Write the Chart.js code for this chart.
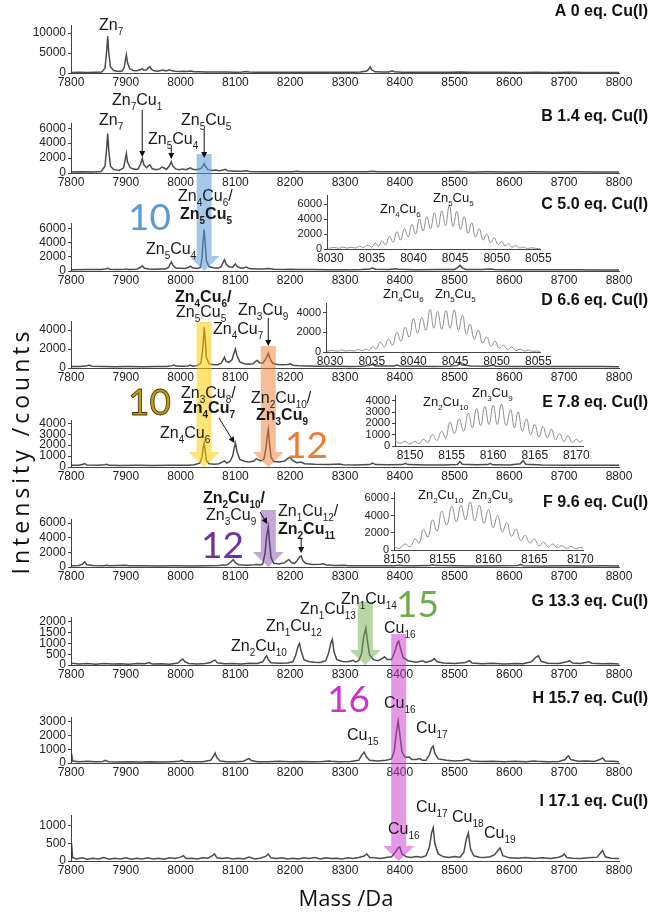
<!DOCTYPE html>
<html>
<head>
<meta charset="utf-8">
<title>Cu(I) titration mass spectra</title>
<script src="https://cdn.jsdelivr.net/npm/chart.js@4.4.1/dist/chart.umd.min.js"></script>
<style>
  html, body { margin: 0; padding: 0; background: #fff; }
  #fig { position: relative; width: 652px; height: 914px; overflow: hidden; }
  #fig canvas { position: absolute; }
</style>
</head>
<body>
<div id="fig"></div>
<script>
// ---- data -------------------------------------------------------------

const massTicks = [7800, 7900, 8000, 8100, 8200, 8300, 8400, 8500, 8600, 8700, 8800];
const panelTitles = ["A 0 eq. Cu(I)", "B 1.4 eq. Cu(I)", "C 5.0 eq. Cu(I)", "D 6.6 eq. Cu(I)",
  "E 7.8 eq. Cu(I)", "F 9.6 eq. Cu(I)", "G 13.3 eq. Cu(I)", "H 15.7 eq. Cu(I)", "I 17.1 eq. Cu(I)"];

const ticksA = [0, 5000, 10000];
const ticksB = [0, 2000, 4000, 6000];
const ticksC = [0, 2000, 4000, 6000];
const ticksD = [0, 2000, 4000];
const ticksE = [0, 1000, 2000, 3000, 4000];
const ticksF = [0, 2000, 4000, 6000];
const ticksG = [0, 500, 1000, 1500, 2000];
const ticksH = [0, 1000, 2000, 3000];
const ticksI = [0, 500, 1000];

// spectra: [mass (Da), intensity (counts)]
const specA = [
  [7800,150],[7815,180],[7830,140],[7845,170],[7856,220],
  [7862,1200],[7865,5200],[7867,9200],[7869,5000],[7872,1500],[7878,600],
  [7886,400],[7893,500],[7897,1300],[7899,3000],[7901,4500],[7903,2600],[7907,1100],[7913,650],
  [7920,550],[7926,800],[7930,1100],[7933,700],[7938,800],[7941,1300],[7944,1600],[7947,900],[7952,550],
  [7958,450],[7964,650],[7968,750],[7972,500],[7976,600],[7979,800],[7983,650],[7990,420],
  [7998,350],[8005,420],[8012,380],[8018,480],[8025,330],[8035,300],[8045,280],[8058,260],[8070,240],
  [8085,220],[8100,210],[8112,230],[8120,380],[8125,240],[8140,200],[8160,190],[8180,210],[8200,180],
  [8220,200],[8240,170],[8260,190],[8280,170],[8300,180],[8318,200],[8328,250],[8340,500],[8344,1100],[8346,1500],[8349,800],[8355,300],
  [8370,220],[8380,260],[8386,550],[8390,300],[8405,200],[8430,180],[8460,170],[8490,190],[8510,220],[8530,170],
  [8560,160],[8590,170],[8620,150],[8650,160],[8680,150],[8710,160],[8740,140],[8770,150],[8800,140]
];
const specB = [
  [7800,150],[7820,170],[7840,150],[7855,200],
  [7862,900],[7865,3200],[7867,5300],[7869,3000],[7872,900],[7878,450],
  [7888,350],[7896,700],[7899,1800],[7901,2600],[7903,1500],[7908,700],[7915,500],
  [7922,500],[7927,1200],[7930,1950],[7933,1100],[7938,700],[7942,1000],[7944,1100],[7948,600],[7955,450],
  [7962,550],[7966,800],[7969,700],[7974,500],[7979,900],[7983,1500],[7986,900],[7991,550],
  [7998,450],[8003,550],[8010,450],[8015,600],[8018,700],[8022,500],[8028,450],[8032,500],
  [8038,650],[8041,1000],[8043,1250],[8046,800],[8050,450],[8058,350],[8064,400],[8070,300],
  [8078,400],[8082,500],[8086,300],[8100,250],[8112,220],[8120,300],[8125,200],[8150,180],
  [8180,170],[8205,180],[8212,230],[8220,170],[8250,180],[8280,160],[8310,170],[8340,180],[8350,250],[8360,170],
  [8400,160],[8440,170],[8480,160],[8510,200],[8530,150],[8560,160],[8600,150],[8640,160],[8680,150],[8720,160],[8760,150],[8800,140]
];
const specC = [
  [7800,180],[7830,200],[7855,220],[7863,300],[7867,400],[7871,250],[7885,200],[7898,250],[7901,300],[7905,220],
  [7920,250],[7926,500],[7930,750],[7934,400],[7942,300],[7950,250],[7965,300],[7972,300],
  [7978,500],[7981,1000],[7983,1300],[7986,800],[7992,400],[8000,400],[8008,350],[8014,500],[8018,700],[8022,450],[8030,350],
  [8036,500],[8039,1800],[8041,4200],[8043,5900],[8045,3800],[8047,1500],[8052,600],[8060,450],[8068,400],
  [8074,600],[8078,1300],[8080,1600],[8083,1000],[8088,600],[8095,500],[8098,850],[8100,1000],[8103,650],[8110,400],
  [8116,450],[8120,550],[8125,350],[8135,300],[8150,280],[8160,350],[8170,250],[8190,220],[8200,260],[8215,200],
  [8240,200],[8270,180],[8300,190],[8330,200],[8345,300],[8350,420],[8356,250],[8380,210],[8393,330],[8398,250],
  [8430,190],[8470,200],[8500,230],[8506,500],[8510,800],[8514,450],[8520,220],[8550,200],[8565,300],[8572,200],
  [8600,180],[8640,190],[8680,170],[8720,180],[8760,160],[8800,150]
];
const specD = [
  [7800,150],[7815,160],[7828,200],[7833,300],[7838,180],[7860,150],[7880,140],[7905,150],[7930,140],[7955,150],
  [7975,160],[7985,250],[7988,320],[7992,200],[8005,180],[8014,220],[8018,300],[8022,200],[8030,250],
  [8037,500],[8040,1800],[8042,3300],[8043,4300],[8045,3000],[8047,1100],[8052,450],[8060,350],[8068,350],
  [8074,500],[8078,900],[8080,1150],[8083,700],[8088,600],[8094,900],[8097,1500],[8100,2000],[8103,1300],[8108,650],
  [8116,450],[8125,400],[8132,450],[8137,700],[8140,800],[8144,550],[8150,500],[8155,900],[8158,1300],[8160,1550],[8163,1000],[8168,500],
  [8176,380],[8185,350],[8195,380],[8200,450],[8205,300],[8215,250],[8230,220],[8250,190],[8280,180],[8310,170],[8330,180],
  [8345,250],[8350,380],[8355,220],[8375,200],[8390,220],[8395,320],[8400,220],[8430,180],[8460,170],[8490,180],
  [8505,250],[8510,600],[8514,300],[8530,200],[8560,180],[8570,280],[8576,180],[8610,160],[8650,170],[8690,150],[8730,160],[8770,150],[8800,140]
];
const specE = [
  [7800,150],[7815,170],[7822,250],[7825,320],[7829,180],[7850,150],[7862,200],[7865,250],[7869,150],[7890,140],[7920,150],
  [7950,140],[7980,150],[8000,160],[8015,170],[8025,200],[8035,350],[8039,900],[8041,1700],[8043,2200],[8045,1500],[8047,600],[8052,300],
  [8062,250],[8070,300],[8076,450],[8080,550],[8084,350],[8090,500],[8095,1000],[8098,1800],[8100,2200],[8103,1400],[8108,700],
  [8118,500],[8125,450],[8134,550],[8138,750],[8141,700],[8146,550],[8152,700],[8156,1800],[8158,2800],[8160,3450],[8162,2300],[8165,900],[8170,500],
  [8180,450],[8190,550],[8196,800],[8200,900],[8204,600],[8212,400],[8220,450],[8226,300],[8245,250],[8270,220],[8290,280],[8296,200],[8320,190],
  [8345,220],[8350,350],[8356,220],[8380,200],[8405,220],[8410,330],[8415,220],[8450,190],[8480,180],[8505,230],[8510,500],[8514,260],
  [8540,200],[8560,220],[8565,320],[8570,200],[8600,190],[8620,300],[8625,600],[8630,260],[8660,180],[8700,170],[8740,160],[8770,160],[8800,150]
];
const specF = [
  [7800,180],[7815,200],[7821,400],[7825,700],[7829,300],[7840,200],[7860,180],[7865,250],[7870,180],[7900,230],[7905,170],
  [7930,160],[7960,150],[7990,160],[8020,150],[8045,170],[8070,200],[8085,300],[8092,700],[8096,1000],[8100,600],[8106,300],
  [8120,250],[8135,300],[8140,350],[8146,280],[8150,450],[8154,1800],[8157,4200],[8160,5500],[8162,3600],[8165,1300],[8170,500],
  [8180,400],[8190,600],[8195,900],[8198,1000],[8202,600],[8208,500],[8213,900],[8217,1400],[8220,1500],[8223,900],[8228,500],
  [8240,350],[8255,380],[8260,450],[8265,300],[8280,220],[8300,250],[8306,180],[8330,170],[8360,160],[8390,170],[8400,230],[8405,170],
  [8430,160],[8455,190],[8460,300],[8465,190],[8500,160],[8540,150],[8580,160],[8615,200],[8620,320],[8626,180],[8660,150],[8700,160],[8740,150],[8770,160],[8800,150]
];
const specG = [
  [7800,80],[7815,50],[7830,70],[7845,40],[7860,70],[7875,50],[7890,60],[7905,40],[7920,70],[7935,60],[7942,110],[7948,50],[7965,60],[7980,40],
  [7995,90],[8000,200],[8004,280],[8008,150],[8015,70],[8030,50],[8045,70],[8055,120],[8060,200],[8063,230],[8067,100],[8080,60],
  [8095,70],[8110,50],[8125,80],[8140,70],[8150,150],[8154,330],[8157,430],[8160,250],[8165,100],[8180,80],[8195,90],[8205,150],
  [8210,450],[8214,850],[8217,1000],[8220,650],[8225,250],[8235,150],[8245,130],[8255,120],[8265,200],[8270,550],[8274,1000],[8277,1190],[8280,600],[8285,250],
  [8295,160],[8305,150],[8312,200],[8315,220],[8319,140],[8325,200],[8330,500],[8334,1300],[8338,1720],[8341,1100],[8345,450],[8352,250],
  [8360,200],[8368,300],[8372,380],[8377,250],[8385,250],[8392,700],[8396,1050],[8398,1110],[8401,800],[8406,350],[8415,200],
  [8430,130],[8442,200],[8447,120],[8458,200],[8463,300],[8468,150],[8480,90],[8500,70],[8520,120],[8527,200],[8532,90],[8550,60],
  [8570,80],[8590,50],[8610,70],[8625,60],[8640,150],[8648,350],[8653,430],[8658,170],[8670,80],[8690,70],[8705,150],[8710,200],[8715,90],
  [8730,70],[8745,150],[8750,80],[8770,60],[8785,70],[8800,50]
];
const specH = [
  [7800,200],[7801,680],[7803,150],[7815,100],[7830,120],[7845,90],[7858,110],[7863,200],[7868,100],[7885,80],[7905,100],[7925,70],
  [7945,90],[7965,70],[7985,100],[7998,130],[8002,200],[8006,110],[8020,90],[8040,100],[8055,200],[8060,500],[8063,730],[8066,400],[8072,150],
  [8085,100],[8100,90],[8115,130],[8121,260],[8125,320],[8129,180],[8140,100],[8160,90],[8180,120],[8200,90],[8220,110],[8240,90],
  [8260,110],[8270,150],[8275,120],[8290,100],[8310,110],[8325,200],[8331,600],[8335,800],[8339,450],[8345,200],[8360,150],[8375,200],[8385,300],
  [8390,900],[8394,2300],[8397,3070],[8400,2100],[8404,800],[8410,400],[8417,440],[8422,250],[8430,250],[8437,320],[8441,200],[8448,200],
  [8454,600],[8458,1100],[8461,1240],[8464,700],[8470,300],[8485,200],[8500,150],[8515,180],[8521,260],[8525,270],[8530,150],[8550,110],
  [8570,130],[8590,100],[8610,120],[8630,100],[8645,150],[8650,130],[8670,100],[8690,110],[8702,250],[8706,480],[8708,510],[8712,250],[8725,130],
  [8740,140],[8755,110],[8765,250],[8770,370],[8775,150],[8790,120],[8800,100]
];
const specI = [
  [7800,80],[7801,500],[7803,100],[7810,60],[7820,90],[7830,50],[7840,80],[7850,60],[7860,100],[7870,50],[7880,80],[7890,60],[7900,90],
  [7910,50],[7920,80],[7930,60],[7940,90],[7950,60],[7960,80],[7970,50],[7980,90],[7990,70],[8000,110],[8005,150],[8010,70],[8020,80],
  [8030,60],[8040,90],[8050,80],[8058,150],[8062,200],[8066,90],[8075,70],[8085,90],[8095,60],[8105,80],[8115,60],[8125,110],[8135,60],
  [8145,80],[8155,130],[8160,200],[8165,90],[8175,70],[8185,90],[8195,60],[8205,80],[8215,60],[8225,90],[8235,70],[8245,100],[8255,60],
  [8265,90],[8275,70],[8285,80],[8295,60],[8305,90],[8315,70],[8325,100],[8335,140],[8340,200],[8345,100],[8355,90],[8365,70],[8375,100],
  [8385,120],[8392,250],[8397,380],[8400,400],[8404,200],[8412,120],[8420,100],[8430,130],[8440,110],[8448,150],[8454,400],[8458,800],[8461,950],
  [8464,500],[8470,200],[8480,120],[8490,100],[8500,130],[8510,110],[8517,250],[8521,600],[8525,800],[8529,350],[8535,150],[8545,110],
  [8555,100],[8565,120],[8573,180],[8579,300],[8583,370],[8588,150],[8600,90],[8615,80],[8630,100],[8645,70],[8660,90],[8675,70],
  [8690,110],[8697,150],[8700,200],[8705,100],[8715,80],[8730,70],[8745,90],[8760,110],[8766,220],[8770,300],[8775,120],[8785,80],[8800,70]
];

// zoomed isotope envelopes
const insetTicksLow = [8030, 8035, 8040, 8045, 8050, 8055];
const insetTicksHigh = [8150, 8155, 8160, 8165, 8170];
const insetYTicksC = [0, 2000, 4000, 6000];
const insetYTicksD = [0, 2000, 4000];
const insetYTicksE = [0, 1000, 2000, 3000, 4000];
const insetYTicksF = [0, 2000, 4000, 6000];

const insetC = [
  [8029.8,100],[8030.5,200],[8031,100],[8031.5,250],[8032,120],[8032.5,220],[8033,150],[8033.5,380],[8034,200],[8034.5,500],
  [8035,250],[8035.4,800],[8035.8,350],[8036.2,1100],[8036.65,550],[8037.1,1700],[8037.55,900],[8038.0,2300],[8038.45,1200],
  [8038.9,2700],[8039.35,1600],[8039.8,3300],[8040.25,2000],[8040.7,4000],[8041.15,2400],[8041.6,4300],[8042.05,2700],
  [8042.5,4800],[8042.95,2900],[8043.4,5100],[8043.85,3100],[8044.3,5850],[8044.75,3000],[8045.2,5000],[8045.65,2600],
  [8046.1,4300],[8046.55,2100],[8047.0,3500],[8047.45,1600],[8047.9,2700],[8048.35,1200],[8048.8,2000],[8049.25,850],
  [8049.7,1500],[8050.15,600],[8050.6,1000],[8051,400],[8051.4,700],[8051.85,250],[8052.3,450],[8052.75,150],[8053.2,250],
  [8053.7,80],[8054.2,150],[8054.8,60],[8055.2,50]
];
const insetD = [
  [8029.6,100],[8030.4,150],[8030.9,80],[8031.4,200],[8031.9,100],[8032.4,150],[8032.9,100],[8033.4,250],[8033.85,130],
  [8034.3,300],[8034.7,180],[8035.1,550],[8035.55,300],[8036.0,1000],[8036.5,500],[8037.0,1300],[8037.5,700],[8038.0,2000],
  [8038.5,1100],[8039.0,2500],[8039.5,1500],[8040.0,3400],[8040.5,1900],[8041.0,3500],[8041.5,2200],[8042.0,4300],
  [8042.45,2400],[8042.9,4100],[8043.4,2300],[8043.9,4200],[8044.4,2400],[8044.9,4250],[8045.4,2200],[8045.9,3700],
  [8046.35,1800],[8046.8,2800],[8047.3,1300],[8047.8,2200],[8048.3,900],[8048.8,1500],[8049.3,600],[8049.8,1100],
  [8050.3,400],[8050.8,700],[8051.3,250],[8051.8,500],[8052.3,150],[8052.8,300],[8053.3,100],[8053.8,200],[8054.3,60],
  [8054.8,100],[8055.2,50]
];
const insetE = [
  [8148.2,500],[8148.8,250],[8149.4,400],[8150.0,180],[8150.6,400],[8151.1,200],[8151.6,600],[8152.15,300],[8152.7,1000],
  [8153.25,500],[8153.8,1300],[8154.3,700],[8154.8,2100],[8155.35,1100],[8155.9,2400],[8156.45,1300],[8157.0,2900],
  [8157.5,1600],[8158.0,3300],[8158.5,1800],[8159.0,3500],[8159.5,1900],[8160.0,3600],[8160.5,1900],[8161.0,3700],
  [8161.55,1800],[8162.1,3200],[8162.55,1600],[8163.0,3000],[8163.5,1300],[8164.0,2400],[8164.5,1000],[8165.0,1900],
  [8165.5,800],[8166.0,1700],[8166.5,700],[8167.0,1500],[8167.5,550],[8168.0,1100],[8168.5,400],[8169.0,900],[8169.5,300],
  [8170.0,600],[8170.4,350],[8170.8,500]
];
const insetF = [
  [8149.7,400],[8150.3,200],[8150.9,700],[8151.45,400],[8152.0,1300],[8152.45,800],[8152.9,2400],[8153.4,1500],
  [8153.9,3500],[8154.4,2200],[8154.9,4500],[8155.45,2900],[8156.0,5100],[8156.5,3300],[8157.0,5200],[8157.5,3500],
  [8158.0,5600],[8158.5,3400],[8159.0,5200],[8159.5,3100],[8160.0,4700],[8160.5,2600],[8161.0,4000],[8161.5,2100],
  [8162.0,3200],[8162.5,1600],[8163.0,2400],[8163.5,1100],[8164.0,1700],[8164.5,800],[8165.0,1300],[8165.5,500],
  [8166.0,900],[8166.5,350],[8167.0,700],[8167.5,250],[8168.0,500],[8168.5,200],[8169.0,400],[8169.5,150],[8170.0,300],[8170.3,200]
];

// ---- layout -----------------------------------------------------------

const FONT = '"Liberation Sans", Arial, sans-serif';
Chart.defaults.font.family = FONT;
Chart.defaults.color = '#222';

const X_LEFT = 71, X_RIGHT = 619, PAD_TOP = 12, X_AXIS_H = 18;
const fig = document.getElementById('fig');

const panels = [
  { spec: specA, yTicks: ticksA, yMax: 12000, top: 25,  bottom: 73 },
  { spec: specB, yTicks: ticksB, yMax: 6700,  top: 123, bottom: 173 },
  { spec: specC, yTicks: ticksC, yMax: 6850,  top: 223, bottom: 271 },
  { spec: specD, yTicks: ticksD, yMax: 4970,  top: 321, bottom: 368 },
  { spec: specE, yTicks: ticksE, yMax: 4300,  top: 420, bottom: 467 },
  { spec: specF, yTicks: ticksF, yMax: 6550,  top: 519, bottom: 567 },
  { spec: specG, yTicks: ticksG, yMax: 2230,  top: 617, bottom: 665 },
  { spec: specH, yTicks: ticksH, yMax: 3365,  top: 717, bottom: 763 },
  { spec: specI, yTicks: ticksI, yMax: 1314,  top: 815, bottom: 861 }
];

const insets = [
  { data: insetC, xTicks: insetTicksLow,  yTicks: insetYTicksC, xMin: 8029.6, xMax: 8055.2, yMax: 7200, left: 327, right: 540, top: 195, bottom: 249 },
  { data: insetD, xTicks: insetTicksLow,  yTicks: insetYTicksD, xMin: 8029.5, xMax: 8055.2, yMax: 4960, left: 326, right: 540, top: 303, bottom: 352 },
  { data: insetE, xTicks: insetTicksHigh, yTicks: insetYTicksE, xMin: 8148.2, xMax: 8170.8, yMax: 4500, left: 395, right: 583, top: 395, bottom: 446 },
  { data: insetF, xTicks: insetTicksHigh, yTicks: insetYTicksF, xMin: 8149.7, xMax: 8170.3, yMax: 6750, left: 394, right: 583, top: 492, bottom: 550 }
];

function makeChart(o) {
  const c = document.createElement('canvas');
  const yW = o.yAxisWidth;
  const canvasLeft = o.left - yW;
  c.width = (o.right - canvasLeft) + o.padRight;
  c.height = (o.bottom - o.top) + PAD_TOP + X_AXIS_H;
  c.style.left = canvasLeft + 'px';
  c.style.top = (o.top - PAD_TOP) + 'px';
  fig.appendChild(c);
  const chart = new Chart(c, {
    type: 'line',
    data: {
      datasets: [{
        data: o.data.map(p => ({ x: p[0], y: p[1] })),
        borderColor: o.color,
        borderWidth: o.width,
        pointRadius: 0,
        tension: o.tension,
        fill: false
      }]
    },
    options: {
      responsive: false,
      animation: false,
      devicePixelRatio: 1,
      events: [],
      layout: { padding: { left: 0, right: o.padRight, top: PAD_TOP, bottom: 0 } },
      plugins: { legend: { display: false }, tooltip: { enabled: false } },
      scales: {
        x: {
          type: 'linear', min: o.xMin, max: o.xMax,
          afterBuildTicks: s => { s.ticks = o.xTicks.map(v => ({ value: v })); },
          afterFit: s => { s.height = X_AXIS_H; },
          grid: { drawOnChartArea: false, drawTicks: false },
          border: { color: '#444', width: 1 },
          ticks: { font: { size: 12 }, color: '#222', padding: 2, maxRotation: 0, autoSkip: false, callback: v => String(v) }
        },
        y: {
          min: 0, max: o.yMax,
          afterBuildTicks: s => { s.ticks = o.yTicks.map(v => ({ value: v })); },
          afterFit: s => { s.width = yW; },
          grid: { drawOnChartArea: false, drawTicks: true, tickLength: 3, color: '#444' },
          border: { color: '#444', width: 1 },
          ticks: { font: { size: o.yFont }, color: '#222', padding: 2, autoSkip: false, callback: v => String(v) }
        }
      }
    }
  });
  return { chart, el: c };
}

const mainCharts = panels.map(p => makeChart({
  data: p.spec, xTicks: massTicks, yTicks: p.yTicks, xMin: 7800, xMax: 8800, yMax: p.yMax,
  left: X_LEFT, right: X_RIGHT, top: p.top, bottom: p.bottom, yAxisWidth: X_LEFT, padRight: 652 - X_RIGHT,
  color: 'rgba(45,45,45,0.85)', width: 1.5, tension: 0, yFont: 12
}));

const insetCharts = insets.map(p => makeChart({
  data: p.data, xTicks: p.xTicks, yTicks: p.yTicks, xMin: p.xMin, xMax: p.xMax, yMax: p.yMax,
  left: p.left, right: p.right, top: p.top, bottom: p.bottom, yAxisWidth: 42, padRight: 22,
  color: '#8c8c8c', width: 1, tension: 0.45, yFont: 11
}));

// ---- overlay: highlight arrows, peak labels, titles -------------------

const ov = document.createElement('canvas');
ov.width = 652; ov.height = 914;
ov.style.left = '0px'; ov.style.top = '0px';
fig.appendChild(ov);
const ctx = ov.getContext('2d');

const px = (i, m) => mainCharts[i].el.offsetLeft + mainCharts[i].chart.scales.x.getPixelForValue(m);
const py = (i, v) => mainCharts[i].el.offsetTop + mainCharts[i].chart.scales.y.getPixelForValue(v);

// wide translucent arrows marking the dominant species
function bandArrow(x, top, tip, color) {
  const sw = 7.5, hw = 15.5, hl = 15;
  ctx.fillStyle = color;
  ctx.beginPath();
  ctx.moveTo(x - sw, top);
  ctx.lineTo(x + sw, top);
  ctx.lineTo(x + sw, tip - hl);
  ctx.lineTo(x + hw, tip - hl);
  ctx.lineTo(x, tip);
  ctx.lineTo(x - hw, tip - hl);
  ctx.lineTo(x - sw, tip - hl);
  ctx.closePath();
  ctx.fill();
}
bandArrow(px(1, 8043), 154, py(2, 0), 'rgba(91,155,213,0.55)');
bandArrow(px(3, 8043), 322, py(4, 0), 'rgba(255,204,0,0.55)');
bandArrow(px(3, 8160), 346, py(4, 0), 'rgba(237,125,49,0.5)');
bandArrow(px(5, 8160), 510, py(5, 0), 'rgba(112,48,160,0.42)');
bandArrow(px(6, 8337), 602, py(6, 0), 'rgba(112,173,71,0.5)');
bandArrow(px(6, 8398), 634, py(8, 0), 'rgba(204,51,204,0.5)');

// thin black pointers
function pointer(x1, y1, x2, y2) {
  const a = Math.atan2(y2 - y1, x2 - x1), L = 6, W = 3;
  ctx.strokeStyle = '#111'; ctx.fillStyle = '#111'; ctx.lineWidth = 1;
  ctx.beginPath(); ctx.moveTo(x1, y1); ctx.lineTo(x2 - Math.cos(a) * L, y2 - Math.sin(a) * L); ctx.stroke();
  ctx.beginPath();
  ctx.moveTo(x2, y2);
  ctx.lineTo(x2 - Math.cos(a) * L - Math.sin(a) * W, y2 - Math.sin(a) * L + Math.cos(a) * W);
  ctx.lineTo(x2 - Math.cos(a) * L + Math.sin(a) * W, y2 - Math.sin(a) * L - Math.cos(a) * W);
  ctx.closePath(); ctx.fill();
}
pointer(px(1, 7930), 110, px(1, 7930), 157);
pointer(px(1, 7983), 148, px(1, 7983), 159);
pointer(px(1, 8043), 129, px(1, 8043), 158);
pointer(px(3, 8160), 318, px(3, 8160), 346);
pointer(219, 418, px(4, 8100) - 1, 443);
pointer(260, 512, px(5, 8160) - 1, 524);
pointer(px(5, 8220), 538, px(5, 8220), 553);

// formula text; {n} is drawn as a subscript
function chem(str, x, y, size, bold) {
  const parts = str.split(/(\{[^}]*\})/).filter(Boolean);
  let cx = x;
  ctx.fillStyle = '#1a1a1a';
  ctx.textAlign = 'left';
  ctx.textBaseline = 'alphabetic';
  for (const p of parts) {
    const sub = p[0] === '{';
    const t = sub ? p.slice(1, -1) : p;
    const fs = sub ? Math.round(size * 0.64) : size;
    ctx.font = (bold ? 'bold ' : '') + fs + 'px ' + FONT;
    ctx.fillText(t, cx, sub ? y + size * 0.3 : y);
    cx += ctx.measureText(t).width;
  }
}

const labels = [
  ['Zn{7}', 99, 30, 16, false],
  ['Zn{7}', 99, 125, 16, false],
  ['Zn{7}Cu{1}', 112, 105, 16, false],
  ['Zn{5}Cu{4}', 148, 144, 16, false],
  ['Zn{5}Cu{5}', 181, 125, 16, false],
  ['Zn{4}Cu{6}/', 178, 201, 16, false],
  ['Zn{5}Cu{5}', 180, 219, 16, true],
  ['Zn{5}Cu{4}', 146, 254, 16, false],
  ['Zn{4}Cu{6}/', 175, 302, 16, true],
  ['Zn{5}Cu{5}', 176, 317, 16, false],
  ['Zn{4}Cu{7}', 213, 334, 16, false],
  ['Zn{3}Cu{9}', 238, 315, 16, false],
  ['Zn{3}Cu{8}/', 181, 398, 16, false],
  ['Zn{4}Cu{7}', 183, 413, 16, true],
  ['Zn{4}Cu{6}', 160, 438, 16, false],
  ['Zn{2}Cu{10}/', 251, 403, 16, false],
  ['Zn{3}Cu{9}', 256, 420, 16, true],
  ['Zn{2}Cu{10}/', 203, 503, 16, true],
  ['Zn{3}Cu{9}', 206, 520, 16, false],
  ['Zn{1}Cu{12}/', 278, 516, 16, false],
  ['Zn{2}Cu{11}', 278, 534, 16, true],
  ['Zn{2}Cu{10}', 231, 651, 16, false],
  ['Zn{1}Cu{12}', 266, 631, 16, false],
  ['Zn{1}Cu{13}', 300, 614, 16, false],
  ['Zn{1}Cu{14}', 341, 604, 16, false],
  ['Cu{16}', 384, 633, 16, false],
  ['Cu{16}', 384, 708, 16, false],
  ['Cu{15}', 347, 740, 16, false],
  ['Cu{17}', 416, 733, 16, false],
  ['Cu{16}', 388, 834, 16, false],
  ['Cu{17}', 416, 812, 16, false],
  ['Cu{18}', 452, 822, 16, false],
  ['Cu{19}', 484, 838, 16, false],
  // inset labels
  ['Zn{4}Cu{6}', 380, 213, 13, false],
  ['Zn{5}Cu{5}', 433, 202, 13, false],
  ['Zn{4}Cu{6}', 383, 298, 13, false],
  ['Zn{5}Cu{5}', 435, 298, 13, false],
  ['Zn{2}Cu{10}', 423, 406, 13, false],
  ['Zn{3}Cu{9}', 472, 397, 13, false],
  ['Zn{2}Cu{10}', 418, 499, 13, false],
  ['Zn{3}Cu{9}', 472, 499, 13, false]
];
labels.forEach(l => chem(l[0], l[1], l[2], l[3], l[4]));

// cluster-size numbers
function bigNum(t, x, y, color, outline) {
  ctx.font = '37px Lato, "Open Sans", sans-serif';
  ctx.textAlign = 'left';
  ctx.textBaseline = 'alphabetic';
  ctx.fillStyle = color;
  ctx.fillText(t, x, y);
  if (outline) {
    ctx.strokeStyle = outline; ctx.lineWidth = 0.8;
    ctx.strokeText(t, x, y);
  }
}
bigNum('10', 128, 230, '#5b9bd5');
bigNum('10', 128, 415, '#c99a06', 'rgba(40,30,0,0.9)');
bigNum('12', 285, 458, '#ed7d31');
bigNum('12', 201, 558, '#7030a0');
bigNum('15', 396, 617, '#70ad47');
bigNum('16', 327, 712, '#cc33cc');

// panel titles
ctx.font = 'bold 16px ' + FONT;
ctx.fillStyle = '#111';
ctx.textAlign = 'right';
ctx.textBaseline = 'alphabetic';
const titleBase = [16, 121, 209, 305, 407, 507, 606, 703, 806];
panelTitles.forEach((t, i) => ctx.fillText(t, 648, titleBase[i]));

// axis titles
ctx.fillStyle = '#111';
ctx.textBaseline = 'middle';
ctx.font = '22px "Open Sans", sans-serif';
ctx.textAlign = 'center';
ctx.fillText('Mass /Da', 346, 900);

// vertical title, letter-spaced by hand
function spacedText(t, cx, cy, gap) {
  const widths = [...t].map(ch => ctx.measureText(ch).width);
  const total = widths.reduce((a, b) => a + b, 0) + gap * (t.length - 1);
  ctx.save();
  ctx.translate(cx, cy);
  ctx.rotate(-Math.PI / 2);
  ctx.textAlign = 'left';
  let x = -total / 2;
  [...t].forEach((ch, i) => { ctx.fillText(ch, x, 0); x += widths[i] + gap; });
  ctx.restore();
}
ctx.font = '23px "Open Sans", sans-serif';
spacedText('Intensity /counts', 22, 453, 4);
</script>
</body>
</html>
